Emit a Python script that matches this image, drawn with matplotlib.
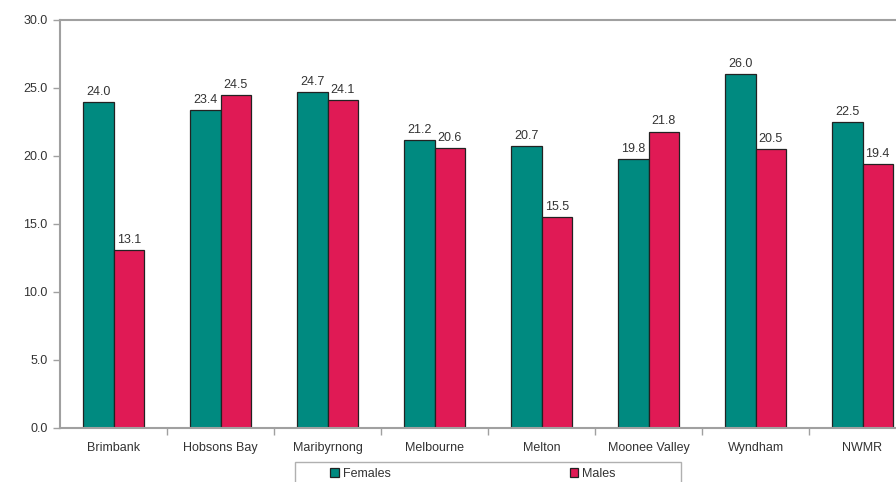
import numpy as np
import matplotlib.pyplot as plt
from matplotlib.patches import Rectangle

plt.rcParams['font.family'] = ['Liberation Sans', 'DejaVu Sans']

regions = ['Brimbank', 'Hobsons Bay', 'Maribyrnong', 'Melbourne', 'Melton',
           'Moonee Valley', 'Wyndham', 'NWMR']
females = [24.0, 23.4, 24.7, 21.2, 20.7, 19.8, 26.0, 22.5]
males = [13.1, 24.5, 24.1, 20.6, 15.5, 21.8, 20.5, 19.4]

teal = '#008a80'
crimson = '#e01a55'
grey = '#a0a0a0'
txt = '#333333'
fs = 9

fig = plt.figure(figsize=(8.96, 4.82), dpi=100)
# axes runs past the right edge of the canvas on purpose
ax = fig.add_axes([60/896, 1-428/482, 856/896, 408/482])

x = np.arange(len(regions))
w = 0.285
b1 = ax.bar(x - w/2, females, w, color=teal, edgecolor='#222222', linewidth=0.9, label='Females')
b2 = ax.bar(x + w/2, males, w, color=crimson, edgecolor='#222222', linewidth=0.9, label='Males')

for bars in (b1, b2):
    for r in bars:
        ax.text(r.get_x() + r.get_width()/2, r.get_height() + 0.3, f'{r.get_height():.1f}',
                ha='center', va='bottom', fontsize=fs, color=txt)

ax.set_xlim(-0.5, len(regions) - 0.5)
ax.set_ylim(0, 30)
ax.set_yticks(np.arange(0, 31, 5))
ax.set_yticklabels([f'{v:.1f}' for v in np.arange(0, 31, 5)])
ax.set_xticks(x)
ax.set_xticklabels(regions)
ax.set_xticks(np.arange(0.5, len(regions) - 0.5, 1), minor=True)
ax.tick_params(axis='x', which='major', length=0, pad=10, labelsize=fs, labelcolor=txt)
ax.tick_params(axis='x', which='minor', length=5, color=grey, width=1)
ax.tick_params(axis='y', length=5, color=grey, width=1, labelsize=fs, labelcolor=txt, pad=4)

for s in ax.spines.values():
    s.set_color(grey)
    s.set_linewidth(1.5)

# legend box below the plot, its lower part runs off the canvas
fig.patches.append(Rectangle((295/896, -10/482), 386/896, 30/482,
                             transform=fig.transFigure, facecolor='white',
                             edgecolor='#b0b0b0', linewidth=1))
leg = fig.legend(handles=[b1, b2], loc='center', bbox_to_anchor=(473/896, 1-474/482),
                 ncol=2, frameon=False, fontsize=fs, handlelength=0.7, handleheight=0.7,
                 handletextpad=0.3, columnspacing=14.3)
for t in leg.get_texts():
    t.set_color(txt)

fig.savefig('out.png', dpi=100)
